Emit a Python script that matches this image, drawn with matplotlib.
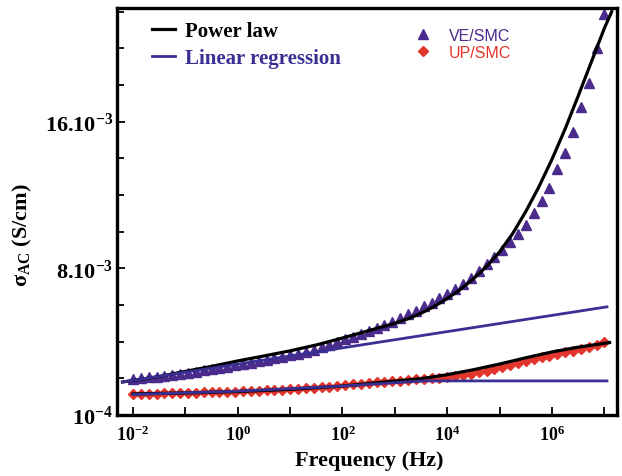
import numpy as np
import matplotlib
matplotlib.use("Agg")
import matplotlib.pyplot as plt
from matplotlib.ticker import MultipleLocator, NullLocator

# Fuentes
plt.rcParams['font.family'] = ['Liberation Serif', 'DejaVu Serif']
plt.rcParams['font.weight'] = 'bold'
plt.rcParams['mathtext.fontset'] = 'custom'
plt.rcParams['mathtext.rm'] = 'Liberation Serif:bold'
plt.rcParams['mathtext.it'] = 'Liberation Serif:bold'
plt.rcParams['mathtext.bf'] = 'Liberation Serif:bold'
plt.rcParams['mathtext.default'] = 'rm'

# Datos (log10 de la frecuencia en Hz, conductividad en 1e-3 S/cm)
log_f = [-2.00, -1.85, -1.70, -1.55, -1.40, -1.25, -1.10, -0.95, -0.80, -0.65,
         -0.50, -0.35, -0.20, -0.05, 0.10, 0.25, 0.40, 0.55, 0.70, 0.85,
         1.00, 1.15, 1.30, 1.45, 1.60, 1.75, 1.90, 2.05, 2.20, 2.35,
         2.50, 2.65, 2.80, 2.95, 3.10, 3.25, 3.40, 3.55, 3.70, 3.85,
         4.00, 4.15, 4.30, 4.45, 4.60, 4.75, 4.90, 5.05, 5.20, 5.35,
         5.50, 5.65, 5.80, 5.95, 6.10, 6.25, 6.40, 6.55, 6.70, 6.85, 7.00]

ve_smc = [1.95, 2.00, 2.05, 2.10, 2.14, 2.19, 2.25, 2.31, 2.37, 2.43,
          2.50, 2.57, 2.64, 2.72, 2.79, 2.86, 2.94, 3.01, 3.09, 3.17,
          3.25, 3.35, 3.45, 3.57, 3.70, 3.83, 3.98, 4.13, 4.28, 4.42,
          4.58, 4.74, 4.92, 5.10, 5.28, 5.50, 5.70, 5.92, 6.12, 6.38,
          6.62, 6.85, 7.12, 7.45, 7.85, 8.25, 8.62, 9.00, 9.42, 9.88,
          10.35, 11.00, 11.70, 12.40, 13.40, 14.30, 15.45, 16.80, 18.10, 20.00, 21.85]

up_smc = [1.15, 1.16, 1.17, 1.17, 1.18, 1.19, 1.20, 1.21, 1.22, 1.23,
          1.24, 1.25, 1.26, 1.28, 1.29, 1.31, 1.33, 1.35, 1.37, 1.39,
          1.41, 1.43, 1.46, 1.49, 1.52, 1.55, 1.59, 1.63, 1.67, 1.71,
          1.74, 1.78, 1.82, 1.85, 1.88, 1.91, 1.94, 1.97, 2.00, 2.03,
          2.07, 2.12, 2.18, 2.25, 2.33, 2.42, 2.52, 2.62, 2.74, 2.86,
          2.96, 3.05, 3.14, 3.23, 3.32, 3.41, 3.50, 3.60, 3.70, 3.80, 3.98]

# Ajuste ley de potencia (curvas negras)
pl_ve_logf = [-2.2, -1.5, -1.0, -0.5, 0.0, 0.5, 1.0, 1.5, 2.0, 2.5, 3.0, 3.25,
              3.5, 3.75, 4.0, 4.25, 4.5, 4.75, 5.0, 5.25, 5.5, 5.75, 6.0,
              6.25, 6.5, 6.75, 7.0, 7.14]
pl_ve = [1.80, 2.10, 2.38, 2.65, 2.95, 3.22, 3.50, 3.82, 4.20, 4.60, 5.00, 5.25,
         5.55, 5.92, 6.35, 6.85, 7.43, 8.10, 8.90, 9.90, 11.10, 12.45, 13.95,
         15.60, 17.40, 19.25, 21.10, 22.00]

pl_up_logf = [-2.0, -1.0, 0.0, 1.0, 2.0, 3.0, 3.5, 4.0, 4.5, 5.0, 5.5, 6.0, 6.5, 7.1]
pl_up = [1.15, 1.20, 1.28, 1.40, 1.58, 1.85, 1.98, 2.20, 2.47, 2.78, 3.12, 3.44, 3.70, 3.95]

# Regresión lineal (líneas violetas)
lr_ve_logf = [-2.2, 7.05]
lr_ve = [1.80, 5.90]
lr_up_logf = [-2.0, 0.0, 2.0, 3.0, 3.6, 7.05]
lr_up = [1.12, 1.30, 1.58, 1.76, 1.86, 1.86]

# Etiquetas de ejes
xtick_exp = [-2, -1, 0, 1, 2, 3, 4, 5, 6, 7]
ytick_vals = [0.0, 8.0, 16.0]
ytick_labels = ['10$^{-4}$', '8.10$^{-3}$', '16.10$^{-3}$']

violeta = '#4b2b8c'
azul = '#3a2f92'
rojo = '#e2352c'

def hz(lf):
    return 10.0 ** np.array(lf)

def sc(v):
    return np.array(v) * 1e-3

fig = plt.figure(figsize=(6.22, 4.77), dpi=100)
ax = fig.add_axes([117/622, 61/477, 500/622, 407/477])

tri, = ax.plot(hz(log_f), sc(ve_smc), linestyle='none', marker='^', ms=7,
               color=violeta, mec=violeta, label='VE/SMC', zorder=2)
dia, = ax.plot(hz(log_f), sc(up_smc), linestyle='none', marker='D', ms=5.5,
               color=rojo, mec=rojo, label='UP/SMC', zorder=2)

pl1, = ax.plot(hz(pl_ve_logf), sc(pl_ve), color='black', lw=2.3, label='Power law', zorder=3)
ax.plot(hz(pl_up_logf), sc(pl_up), color='black', lw=2.3, zorder=3)
lr1, = ax.plot(hz(lr_ve_logf), sc(lr_ve), color=azul, lw=2.0, label='Linear regression', zorder=4)
ax.plot(hz(lr_up_logf), sc(lr_up), color=azul, lw=2.0, zorder=4)

ax.set_xscale('log')
ax.set_xlim(10 ** -2.305, 10 ** 7.241)
ax.set_ylim(0, 22.2e-3)

ax.set_xticks(hz(xtick_exp))
ax.set_xticklabels(['10$^{%d}$' % e if e % 2 == 0 else '' for e in xtick_exp])
ax.xaxis.set_minor_locator(NullLocator())
ax.set_yticks(sc(ytick_vals))
ax.set_yticklabels(ytick_labels)
ax.yaxis.set_minor_locator(MultipleLocator(2e-3))

ax.tick_params(axis='x', which='major', direction='in', length=6, width=1.3,
               labelsize=13, pad=7)
ax.tick_params(axis='y', which='major', direction='in', length=6, width=1.3,
               labelsize=16, pad=3)
ax.tick_params(axis='y', which='minor', direction='in', length=5, width=1.3)
for s in ax.spines.values():
    s.set_linewidth(2.4)

ax.set_xlabel('Frequency (Hz)', fontsize=16, fontweight='bold')
ax.xaxis.set_label_coords(0.504, -0.085)
ax.set_ylabel(r'$\sigma_{AC}$ (S/cm)', fontsize=16, fontweight='bold')
ax.yaxis.set_label_coords(-0.165, 0.445)

leg1 = ax.legend(handles=[pl1, lr1], loc='upper left', bbox_to_anchor=(0.07, 0.968),
                 frameon=False, borderpad=0, borderaxespad=0, handlelength=1.1,
                 handletextpad=0.5, labelspacing=0.35, labelcolor='linecolor',
                 prop={'family': 'Liberation Serif', 'weight': 'bold', 'size': 15})
ax.add_artist(leg1)
ax.legend(handles=[tri, dia], loc='upper left', bbox_to_anchor=(0.596, 0.952),
          frameon=False, borderpad=0, borderaxespad=0, handlelength=1.0,
          handletextpad=1.1, labelspacing=0.15, labelcolor='markerfacecolor',
          prop={'family': 'Liberation Sans', 'weight': 'normal', 'size': 11.5})

fig.savefig('out.png', dpi=100)
